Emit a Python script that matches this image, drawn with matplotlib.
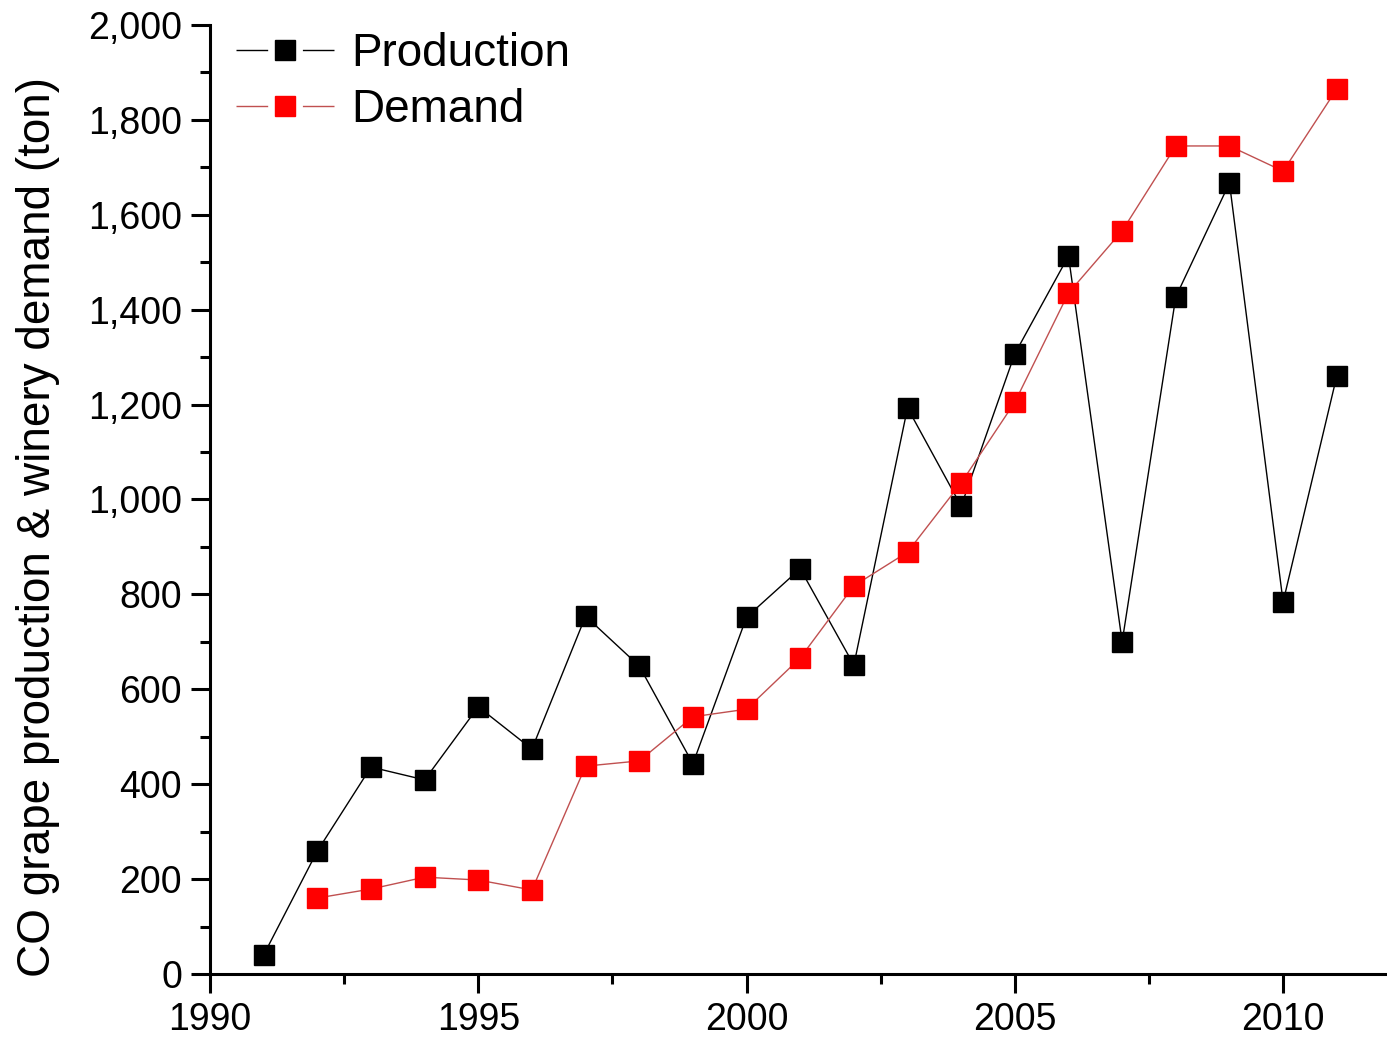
import numpy as np
import matplotlib.pyplot as plt
from matplotlib.ticker import MultipleLocator, FuncFormatter
from matplotlib.lines import Line2D
from matplotlib.legend_handler import HandlerTuple

plt.rcParams['font.family'] = ['Liberation Sans', 'DejaVu Sans']

years_prod = [1991, 1992, 1993, 1994, 1995, 1996, 1997, 1998, 1999, 2000, 2001,
              2002, 2003, 2004, 2005, 2006, 2007, 2008, 2009, 2010, 2011]
production = [40, 259, 436, 409, 563, 474, 754, 649, 443, 752, 854,
              651, 1193, 986, 1307, 1513, 700, 1427, 1667, 784, 1260]

years_dem = [1992, 1993, 1994, 1995, 1996, 1997, 1998, 1999, 2000, 2001,
             2002, 2003, 2004, 2005, 2006, 2007, 2008, 2009, 2010, 2011]
demand = [160, 179, 204, 198, 177, 438, 449, 542, 558, 666,
          818, 889, 1035, 1205, 1435, 1566, 1745, 1745, 1692, 1865]

fig = plt.figure(figsize=(13.87, 10.4), dpi=100)
ax = fig.add_axes([0.1514, 0.0635, 0.8472, 0.9125])

ax.plot(years_prod, production, '-', color='black', lw=1.0, marker='s',
        ms=15, mfc='black', mec='black')
ax.plot(years_dem, demand, '-', color='#c05050', lw=1.0, marker='s',
        ms=15, mfc='red', mec='red')

ax.set_xlim(1990, 2011.9)
ax.set_ylim(0, 2000)
ax.xaxis.set_major_locator(MultipleLocator(5))
ax.xaxis.set_minor_locator(MultipleLocator(2.5))
ax.yaxis.set_major_locator(MultipleLocator(200))
ax.yaxis.set_minor_locator(MultipleLocator(100))
ax.yaxis.set_major_formatter(FuncFormatter(lambda v, p: '{:,.0f}'.format(v)))

for s in ['top', 'right']:
    ax.spines[s].set_visible(False)
for s in ['left', 'bottom']:
    ax.spines[s].set_linewidth(2.2)

ax.tick_params(which='major', direction='out', length=14, width=2.2, labelsize=27, pad=6)
ax.tick_params(which='minor', direction='out', length=7, width=2.2)

ax.set_ylabel('CO grape production & winery demand (ton)', fontsize=33)
ax.yaxis.set_label_coords(-0.128, 0.471)

# legend handles: line broken around the marker
fs = 33
hl = 2.14
L = hl * fs
gap = 25
dash = (L - gap) / 2
h1 = (Line2D([], [], color='black', lw=1.0, dashes=[dash, gap]),
      Line2D([], [], ls='none', marker='s', ms=15, mfc='black', mec='black'))
h2 = (Line2D([], [], color='#c05050', lw=1.0, dashes=[dash, gap]),
      Line2D([], [], ls='none', marker='s', ms=15, mfc='red', mec='red'))
ax.legend([h1, h2], ['Production', 'Demand'], handler_map={tuple: HandlerTuple(ndivide=1)},
          loc='upper left', bbox_to_anchor=(-0.005, 1.026), frameon=False, fontsize=fs,
          handlelength=hl, handletextpad=0.37, labelspacing=0.26, borderaxespad=0.3)

fig.savefig('out.png', dpi=100)
